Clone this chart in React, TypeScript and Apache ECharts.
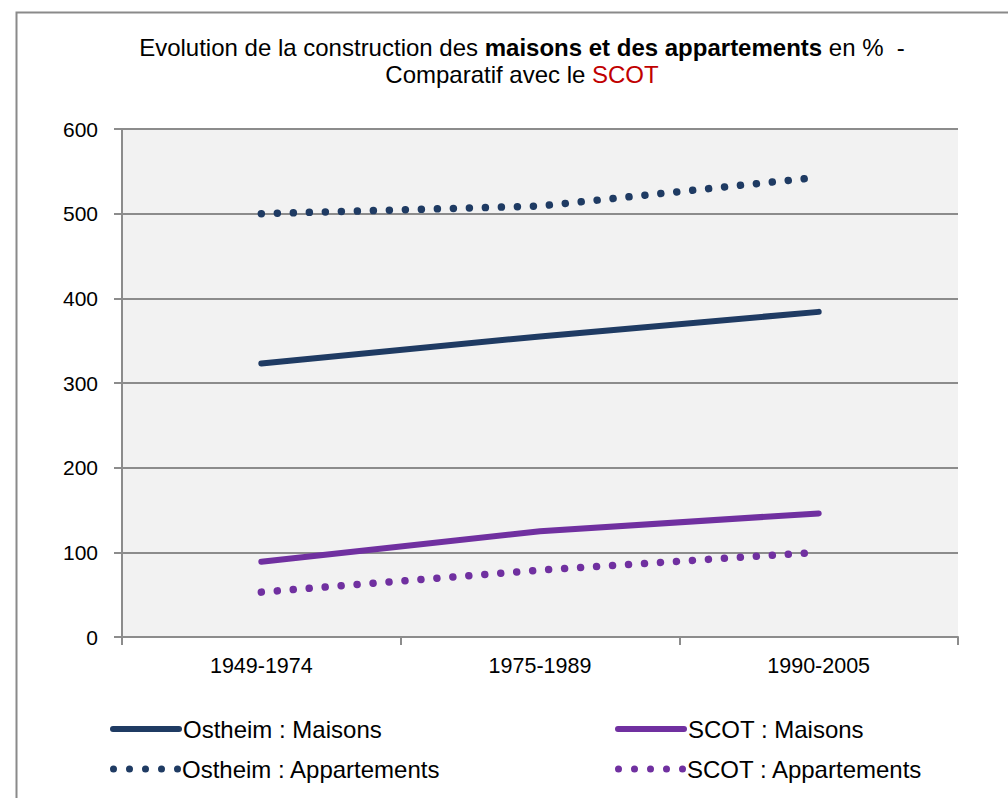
import React, { useEffect, useRef } from "react";
import * as echarts from "echarts";

const categories = ["1949-1974", "1975-1989", "1990-2005"];
const seriesNames = [
  "Ostheim : Maisons",
  "Ostheim : Appartements",
  "SCOT : Maisons",
  "SCOT : Appartements",
];
const ostheimMaisons = [323, 355, 384];
const ostheimAppartements = [500, 509, 543];
const scotMaisons = [89, 125, 146];
const scotAppartements = [53, 79, 100];
const yTicks = [0, 100, 200, 300, 400, 500, 600];

const NAVY = "#1F3B63";
const PURPLE = "#7030A0";
const GRIDC = "#8C8C8C";
const FONT = "'Liberation Sans', Arial, sans-serif";

const SOLID_ICON = "path://M3,0 L69,0 A3,3 0 0,1 69,6 L3,6 A3,3 0 0,1 3,0 Z";
const DOT_ICON =
  "path://" +
  [3.5, 19.5, 35.5, 51.5, 67.5]
    .map((c) => `M${c - 3.5},3.5 A3.5,3.5 0 1,1 ${c + 3.5},3.5 A3.5,3.5 0 1,1 ${c - 3.5},3.5 Z`)
    .join(" ");

export default function App() {
  const ref = useRef<HTMLDivElement>(null);
  useEffect(() => {
    if (!ref.current) return;
    const chart = echarts.init(ref.current, null, { renderer: "svg" });
    const dotted = [0.01, 16];
    const mk = (name: string, data: number[], color: string, dot: boolean) => ({
      name,
      type: "line",
      data,
      symbol: "none",
      lineStyle: {
        color,
        width: dot ? 7.5 : 6,
        type: dot ? dotted : "solid",
        cap: "round",
        join: "round",
      },
      itemStyle: { color },
    });
    const legendBase = {
      itemGap: 0,
      textStyle: { fontFamily: FONT, fontSize: 24, color: "#000", padding: [0, 0, 0, -4] },
    };
    chart.setOption({
      animation: false,
      backgroundColor: "#fff",
      graphic: [
        {
          type: "rect",
          shape: { x: 16.5, y: 12.5, width: 1100, height: 900 },
          style: { fill: "none", stroke: "#8A8A8A", lineWidth: 2 },
          silent: true,
          z: -10,
        },
        {
          type: "text",
          x: 522,
          y: 34,
          style: {
            text: "Evolution de la construction des {b|maisons et des appartements} en %  -\nComparatif avec le {r|SCOT}",
            font: `24px ${FONT}`,
            fill: "#000",
            align: "center",
            lineHeight: 27,
            rich: {
              b: { fontWeight: "bold", fontSize: 24, fontFamily: FONT, fill: "#000", lineHeight: 27 },
              r: { fill: "#C00000", fontSize: 24, fontFamily: FONT, lineHeight: 27 },
            },
          },
        },
      ],
      grid: { left: 122, top: 129, width: 836, height: 508, containLabel: false },
      xAxis: {
        type: "category",
        data: categories,
        boundaryGap: true,
        axisLine: { show: true, lineStyle: { color: GRIDC, width: 2 } },
        axisTick: { show: true, length: 8, lineStyle: { color: GRIDC, width: 2 }, alignWithLabel: false },
        axisLabel: { fontFamily: FONT, fontSize: 21.5, color: "#000", margin: 18 },
        splitLine: { show: false },
      },
      yAxis: {
        type: "value",
        min: 0,
        max: 600,
        interval: 100,
        axisLine: { show: true, lineStyle: { color: GRIDC, width: 2 } },
        axisTick: { show: true, length: 8, lineStyle: { color: GRIDC, width: 2 } },
        axisLabel: {
          fontFamily: FONT,
          fontSize: 21,
          color: "#000",
          margin: 24,
          formatter: (v: number) => (yTicks.includes(v) ? String(v) : ""),
        },
        splitLine: { show: true, lineStyle: { color: GRIDC, width: 2 } },
        splitArea: { show: true, areaStyle: { color: ["#F2F2F2", "#F2F2F2"] } },
      },
      legend: [
        { ...legendBase, data: [{ name: seriesNames[0], icon: SOLID_ICON }], itemWidth: 72, itemHeight: 6, left: 105, top: 712 },
        { ...legendBase, data: [{ name: seriesNames[1], icon: DOT_ICON }], itemWidth: 71, itemHeight: 7, left: 105, top: 752 },
        { ...legendBase, data: [{ name: seriesNames[2], icon: SOLID_ICON }], itemWidth: 72, itemHeight: 6, left: 610, top: 712 },
        { ...legendBase, data: [{ name: seriesNames[3], icon: DOT_ICON }], itemWidth: 71, itemHeight: 7, left: 610, top: 752 },
      ],
      series: [
        mk(seriesNames[0], ostheimMaisons, NAVY, false),
        mk(seriesNames[1], ostheimAppartements, NAVY, true),
        mk(seriesNames[2], scotMaisons, PURPLE, false),
        mk(seriesNames[3], scotAppartements, PURPLE, true),
      ],
    });
    return () => chart.dispose();
  }, []);
  return (
    <div
      ref={ref}
      style={{ position: "absolute", left: 0, top: 0, width: 1008, height: 798 }}
    />
  );
}
